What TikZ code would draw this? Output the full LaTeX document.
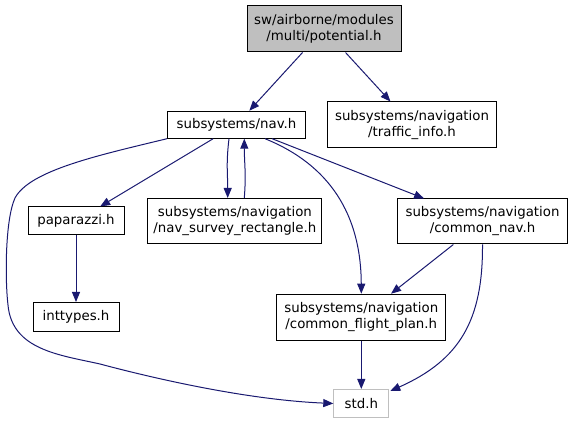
\documentclass[tikz,border=0pt]{standalone}
\usepackage{fontspec}
\setmainfont{DejaVu Sans}
\usetikzlibrary{arrows.meta,calc}
\definecolor{edgeblue}{HTML}{191970}
\definecolor{greyfill}{HTML}{BFBFBF}
\tikzset{
  hbox/.style={draw=black, line width=0.75pt, inner sep=0pt, align=center,
    font=\fontsize{10}{12}\selectfont, fill=white},
  edge/.style={draw=edgeblue, line width=0.75pt,
    -{Triangle[length=7.5pt,width=6pt]}, fill=none},
}
\begin{document}
\begin{tikzpicture}[x=0.75pt,y=-0.75pt]
\useasboundingbox (0,0) rectangle (572,424);
\node[hbox, fill=greyfill, minimum width=115.5pt, minimum height=34.5pt] (pot) at (324,29) {sw/airborne/modules\\/multi/potential.h};
\node[hbox, minimum width=103.5pt, minimum height=20.25pt] (nav) at (236.5,124.7) {subsystems/nav.h};
\node[hbox, minimum width=126.75pt, minimum height=34.5pt] (traffic) at (412,125) {subsystems/navigation\\/traffic\_info.h};
\node[hbox, minimum width=72pt, minimum height=21pt] (pap) at (76,221) {paparazzi.h};
\node[hbox, minimum width=130.5pt, minimum height=33.75pt] (survey) at (234.9,221) {subsystems/navigation\\/nav\_survey\_rectangle.h};
\node[hbox, minimum width=127.5pt, minimum height=33.75pt] (cnav) at (482.5,221.5) {subsystems/navigation\\/common\_nav.h};
\node[hbox, minimum width=126.75pt, minimum height=34.5pt] (cfp) at (361.3,317.2) {subsystems/navigation\\/common\_flight\_plan.h};
\node[hbox, draw=greyfill, minimum width=41.25pt, minimum height=21pt] (std) at (361.3,403.5) {std.h};
\node[hbox, minimum width=64.5pt, minimum height=21.75pt] (intt) at (76,317) {inttypes.h};

\draw[edge] (pot) -- (nav);
\draw[edge] (pot) -- (traffic);
\draw[edge] (nav) -- (pap);
\draw[edge] (nav) -- (cnav);
\draw[edge] (cnav) -- (cfp);
\draw[edge] (cfp) -- (std);
\draw[edge] (pap) -- (intt);
\draw[edge] ($(nav.south)+(-7.5,0)$) .. controls +(-3,25) and +(0,-25) .. ($(survey.north)+(-7.2,0)$);
\draw[edge] ($(survey.north)+(9.4,0)$) .. controls +(2,-25) and +(0,25) .. ($(nav.south)+(7.8,0)$);
\draw[edge] ($(nav.south)+(28.5,0)$) .. controls (330,165) and (361,215) .. (cfp.north);
\draw[edge] (nav.south west) .. controls (100,155) and (30,170) .. (15,198)
   .. controls (5,220) and (5,280) .. (8,305)
   .. controls (12,350) and (60,355) .. (100,364)
   .. controls (160,380) and (250,400) .. (std.west);
\draw[edge] (cnav.south) .. controls (483,320) and (460,360) .. ($(std.north east)+(1,2)$);
\end{tikzpicture}
\end{document}
